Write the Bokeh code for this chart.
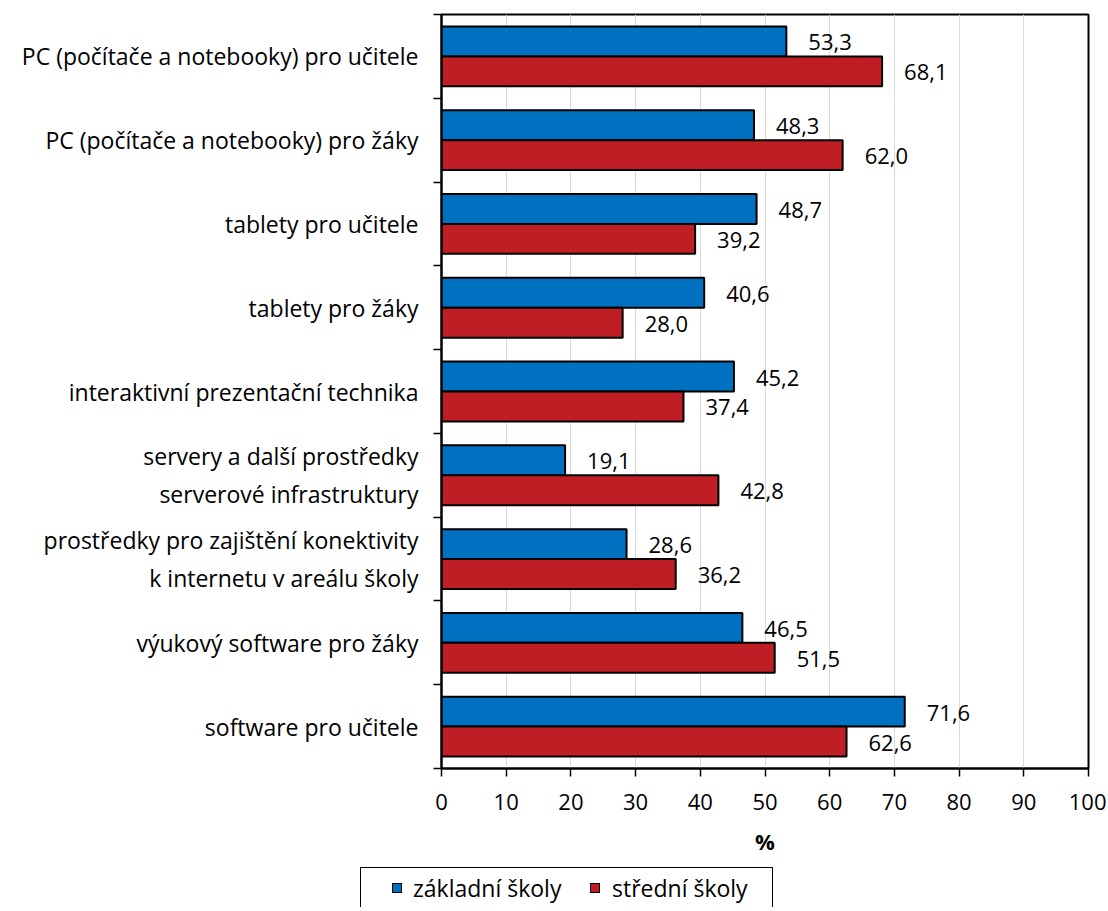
from bokeh.plotting import figure
from bokeh.models import (ColumnDataSource, FixedTicker, LabelSet, Range1d, Div)
from bokeh.layouts import column
from bokeh.core.properties import value
from bokeh.embed import file_html
from bokeh.resources import INLINE

categories = [
    "PC (počítače a notebooky) pro učitele",
    "PC (počítače a notebooky) pro žáky",
    "tablety pro učitele",
    "tablety pro žáky",
    "interaktivní prezentační technika",
    "servery a další prostředky\nserverové infrastruktury",
    "prostředky pro zajištění konektivity\nk internetu v areálu školy",
    "výukový software pro žáky",
    "software pro učitele",
]
zakladni = [53.3, 48.3, 48.7, 40.6, 45.2, 19.1, 28.6, 46.5, 71.6]
stredni = [68.1, 62.0, 39.2, 28.0, 37.4, 42.8, 36.2, 51.5, 62.6]
x_ticks = [0, 10, 20, 30, 40, 50, 60, 70, 80, 90, 100]
series_names = ["základní školy", "střední školy"]

FONT = "Open Sans"
FS = "22px"
FS_CAT = "23px"
BLUE = "#0070C0"
RED = "#BE1E24"
n = len(categories)
centers = [n - i - 0.5 for i in range(n)]
BAR_H = 0.357

def fmt(v):
    return f"{v:.1f}".replace(".", ",")

src_b = ColumnDataSource(dict(y=[c + BAR_H / 2 for c in centers], x=zakladni,
                              lab=[fmt(v) for v in zakladni]))
src_r = ColumnDataSource(dict(y=[c - BAR_H / 2 for c in centers], x=stredni,
                              lab=[fmt(v) for v in stredni]))

p = figure(frame_width=647, frame_height=754, output_backend="svg", toolbar_location=None,
           x_range=Range1d(0, 100), y_range=Range1d(0, n),
           min_border_left=441, min_border_right=18, min_border_top=14, min_border_bottom=99)

bar_style = dict(line_color="black", line_width=2)
rb = p.hbar(y="y", right="x", left=0, height=BAR_H, source=src_b, fill_color=BLUE, **bar_style)
rr = p.hbar(y="y", right="x", left=0, height=BAR_H, source=src_r, fill_color=RED, **bar_style)

for src in (src_b, src_r):
    p.add_layout(LabelSet(x="x", y="y", text="lab", source=src, x_offset=22, y_offset=-1,
                          text_align="left", text_baseline="middle",
                          text_font_size=FS, text_font=value(FONT), text_color="black"))

# x axis
p.xaxis.ticker = FixedTicker(ticks=x_ticks)
p.xaxis.axis_label = "%"
p.xaxis.axis_label_text_font = FONT
p.xaxis.axis_label_text_font_style = "bold"
p.xaxis.axis_label_text_font_size = FS
p.xaxis.axis_label_text_color = "black"
p.xaxis.axis_label_standoff = 13
p.xaxis.major_label_text_font = FONT
p.xaxis.major_label_text_font_size = FS
p.xaxis.major_label_text_color = "black"
p.xaxis.major_label_standoff = 17
p.xaxis.major_tick_out = 8
p.xaxis.major_tick_in = 0
p.xaxis.minor_tick_line_color = None
p.xaxis.axis_line_width = 2
p.xaxis.major_tick_line_width = 1.5

# y axis: labels at centers, ticks at boundaries
p.yaxis.ticker = FixedTicker(ticks=centers, minor_ticks=list(range(n + 1)))
p.yaxis.major_label_overrides = {c: categories[i] for i, c in enumerate(centers)}
p.yaxis.major_label_text_font = FONT
p.yaxis.major_label_text_font_size = FS_CAT
p.yaxis.major_label_text_color = "black"
p.yaxis.major_tick_out = 0
p.yaxis.major_tick_in = 0
p.yaxis.minor_tick_out = 8
p.yaxis.minor_tick_in = 0
p.yaxis.minor_tick_line_width = 1.5
p.yaxis.major_label_standoff = 15
p.yaxis.axis_line_width = 2

p.xgrid.ticker = FixedTicker(ticks=x_ticks)
p.xgrid.grid_line_color = "#d9d9d9"
p.xgrid.grid_line_width = 1
p.ygrid.grid_line_color = None

p.outline_line_color = "black"
p.outline_line_width = 2
p.background_fill_color = "white"
p.border_fill_color = "white"

# legend below the chart (HTML box, partially cut at the bottom like the reference)
def swatch(color, left):
    return (f'<span style="position:absolute;left:{left}px;top:15px;width:10px;height:10px;'
            f'background:{color};border:1.5px solid #000;"></span>')

def label(text, left):
    return (f'<span style="position:absolute;left:{left}px;top:5px;line-height:30px;'
            f'font-family:\'{FONT}\';font-size:{FS_CAT};color:#000;white-space:nowrap;">{text}</span>')

legend_html = (
    '<div style="position:relative;margin-left:360px;width:413px;height:60px;'
    'border:1.5px solid #000;box-sizing:border-box;background:#fff;">'
    + swatch(BLUE, 31) + label(series_names[0], 52)
    + swatch(RED, 229) + label(series_names[1], 251)
    + '</div>'
)
legend_div = Div(text=legend_html, width=1106, height=40,
                 styles={"overflow": "hidden", "margin": "0", "padding": "0"})

open("out.html", "w").write(file_html(column(p, legend_div, spacing=0), INLINE))
